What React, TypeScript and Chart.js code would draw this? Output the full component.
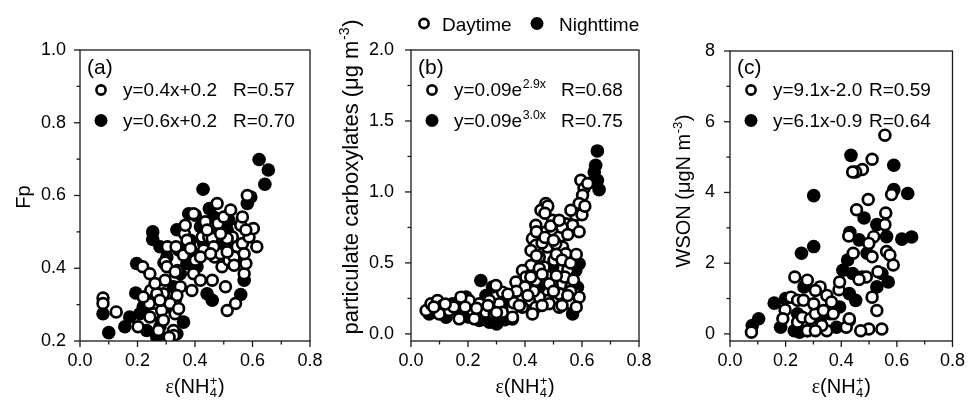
import React, { useEffect, useRef } from 'react';
import { Chart, registerables } from 'chart.js';

Chart.register(...registerables);

const FONT = "'Liberation Sans', Arial, Helvetica, sans-serif";
const SERIF = "'Liberation Serif', 'Times New Roman', serif";

// ---------- shared x axis ----------
const xTicks = [0, 0.2, 0.4, 0.6, 0.8];
const xTickLabels = ['0.0', '0.2', '0.4', '0.6', '0.8'];
const xMinor = [0.1, 0.3, 0.5, 0.7];

// ---------- panel (a) ----------
const aYTicks = [0.2, 0.4, 0.6, 0.8, 1.0];
const aYTickLabels = ['0.2', '0.4', '0.6', '0.8', '1.0'];
const aYMinor = [0.3, 0.5, 0.7, 0.9];
const aDay: number[][] = [
  [0.08, 0.318], [0.08, 0.303], [0.126, 0.28], [0.202, 0.239], [0.218, 0.404], [0.243, 0.385], [0.246, 0.339],
  [0.241, 0.303], [0.255, 0.275], [0.273, 0.229], [0.284, 0.284], [0.29, 0.33], [0.292, 0.415], [0.296, 0.367],
  [0.304, 0.459], [0.325, 0.229], [0.331, 0.275], [0.331, 0.312], [0.334, 0.459], [0.339, 0.394], [0.36, 0.436],
  [0.363, 0.495], [0.349, 0.349], [0.372, 0.477], [0.389, 0.339], [0.401, 0.546], [0.395, 0.385], [0.419, 0.367],
  [0.425, 0.486], [0.43, 0.45], [0.436, 0.528], [0.448, 0.486], [0.46, 0.367], [0.468, 0.431], [0.477, 0.578],
  [0.48, 0.523], [0.489, 0.44], [0.494, 0.404], [0.5, 0.541], [0.506, 0.349], [0.512, 0.284], [0.518, 0.422],
  [0.524, 0.56], [0.53, 0.486], [0.541, 0.303], [0.547, 0.459], [0.559, 0.518], [0.565, 0.468], [0.571, 0.385],
  [0.577, 0.413], [0.582, 0.6], [0.588, 0.486], [0.603, 0.509], [0.615, 0.459], [0.536, 0.431], [0.46, 0.482],
  [0.512, 0.482], [0.395, 0.55], [0.337, 0.325], [0.313, 0.303], [0.267, 0.33], [0.261, 0.358], [0.326, 0.215],
  [0.31, 0.21], [0.296, 0.417], [0.302, 0.404], [0.331, 0.39], [0.366, 0.518], [0.384, 0.454], [0.401, 0.422],
  [0.419, 0.431], [0.442, 0.505], [0.465, 0.459], [0.512, 0.445], [0.536, 0.408], [0.571, 0.44], [0.577, 0.505],
  [0.565, 0.541], [0.489, 0.495], [0.454, 0.44], [0.243, 0.266], [0.278, 0.312], [0.29, 0.257], [0.343, 0.289],
  [0.22, 0.321],
];
const aNight: number[][] = [
  [0.623, 0.699], [0.655, 0.67], [0.643, 0.631], [0.428, 0.617], [0.1, 0.223], [0.08, 0.275], [0.156, 0.239],
  [0.194, 0.332], [0.197, 0.413], [0.253, 0.5], [0.253, 0.479], [0.337, 0.506], [0.378, 0.55], [0.45, 0.564],
  [0.571, 0.367], [0.559, 0.328], [0.46, 0.312], [0.442, 0.33], [0.267, 0.211], [0.36, 0.252], [0.313, 0.294],
  [0.372, 0.413], [0.407, 0.404], [0.465, 0.541], [0.518, 0.532], [0.582, 0.578], [0.594, 0.596], [0.278, 0.459],
  [0.302, 0.431], [0.325, 0.349], [0.22, 0.294], [0.173, 0.266], [0.208, 0.275], [0.278, 0.266], [0.232, 0.229],
  [0.43, 0.468], [0.489, 0.459], [0.536, 0.468], [0.384, 0.477], [0.419, 0.514], [0.477, 0.495], [0.512, 0.505],
  [0.559, 0.431], [0.343, 0.45], [0.349, 0.385], [0.395, 0.44], [0.278, 0.239], [0.337, 0.22],
];

// ---------- panel (b) ----------
const bYTicks = [0, 0.5, 1.0, 1.5, 2.0];
const bYTickLabels = ['0.0', '0.5', '1.0', '1.5', '2.0'];
const bYMinor = [0.25, 0.75, 1.25, 1.75];
const bDay: number[][] = [
  [0.596, 1.082], [0.607, 1.024], [0.602, 0.976], [0.59, 0.918], [0.578, 0.835], [0.561, 0.871], [0.543, 0.776],
  [0.567, 0.765], [0.473, 0.918], [0.456, 0.871], [0.438, 0.765], [0.426, 0.671], [0.438, 0.624], [0.421, 0.588],
  [0.45, 0.541], [0.473, 0.718], [0.497, 0.8], [0.497, 0.729], [0.52, 0.682], [0.532, 0.612], [0.543, 0.565],
  [0.479, 0.612], [0.502, 0.518], [0.467, 0.471], [0.508, 0.635], [0.421, 0.482], [0.391, 0.447], [0.368, 0.365],
  [0.403, 0.4], [0.438, 0.376], [0.485, 0.353], [0.532, 0.353], [0.561, 0.329], [0.578, 0.282], [0.543, 0.235],
  [0.52, 0.282], [0.479, 0.235], [0.45, 0.259], [0.415, 0.235], [0.38, 0.247], [0.35, 0.259], [0.321, 0.294],
  [0.298, 0.341], [0.31, 0.212], [0.275, 0.235], [0.24, 0.212], [0.204, 0.235], [0.175, 0.259], [0.216, 0.165],
  [0.263, 0.153], [0.321, 0.153], [0.356, 0.176], [0.391, 0.188], [0.438, 0.188], [0.485, 0.212], [0.52, 0.188],
  [0.561, 0.212], [0.053, 0.165], [0.07, 0.212], [0.093, 0.235], [0.111, 0.2], [0.134, 0.165], [0.099, 0.141],
  [0.169, 0.106], [0.222, 0.106], [0.292, 0.141], [0.356, 0.118], [0.426, 0.141], [0.59, 0.259], [0.48, 0.9],
  [0.47, 0.85], [0.44, 0.72], [0.46, 0.64], [0.53, 0.75], [0.55, 0.7], [0.51, 0.56], [0.55, 0.45], [0.56, 0.3],
  [0.53, 0.2], [0.3, 0.15], [0.36, 0.22], [0.43, 0.3], [0.46, 0.2], [0.44, 0.55], [0.45, 0.46], [0.47, 0.68],
  [0.49, 0.76], [0.5, 0.66], [0.52, 0.8], [0.53, 0.52], [0.54, 0.4], [0.56, 0.5], [0.57, 0.38], [0.58, 0.56],
  [0.6, 0.84], [0.61, 0.9], [0.62, 1.06], [0.59, 0.72], [0.42, 0.4], [0.4, 0.33], [0.37, 0.3], [0.34, 0.28],
  [0.27, 0.2], [0.23, 0.18], [0.19, 0.19], [0.15, 0.19], [0.12, 0.21], [0.08, 0.19], [0.38, 0.2], [0.41, 0.27],
  [0.5, 0.3], [0.55, 0.27], [0.58, 0.19], [0.51, 0.41], [0.46, 0.42],
];
const bNight: number[][] = [
  [0.654, 1.289], [0.648, 1.188], [0.643, 1.141], [0.654, 1.082], [0.66, 1.016], [0.637, 1.07], [0.59, 0.494],
  [0.578, 0.447], [0.245, 0.376], [0.584, 0.329], [0.578, 0.235], [0.064, 0.141], [0.123, 0.118], [0.181, 0.141],
  [0.24, 0.094], [0.298, 0.094], [0.356, 0.106], [0.275, 0.082], [0.415, 0.212], [0.473, 0.235], [0.532, 0.259],
  [0.543, 0.376], [0.38, 0.282], [0.333, 0.235], [0.193, 0.259], [0.146, 0.212], [0.263, 0.271], [0.45, 0.33],
  [0.497, 0.471], [0.426, 0.447], [0.567, 0.141], [0.286, 0.33], [0.321, 0.153], [0.3, 0.07], [0.33, 0.1],
  [0.09, 0.17], [0.2, 0.12],
];

// ---------- panel (c) ----------
const cYTicks = [0, 2, 4, 6, 8];
const cYTickLabels = ['0', '2', '4', '6', '8'];
const cYMinor = [1, 3, 5, 7];
const cDay: number[][] = [
  [0.557, 5.62], [0.511, 4.94], [0.476, 4.65], [0.452, 4.58], [0.441, 4.58], [0.497, 3.8], [0.455, 3.51],
  [0.581, 3.94], [0.56, 3.42], [0.557, 3.09], [0.427, 2.77], [0.517, 2.75], [0.499, 2.56], [0.443, 2.28],
  [0.511, 2.18], [0.563, 2.33], [0.575, 2.23], [0.587, 1.95], [0.532, 1.76], [0.49, 1.61], [0.464, 1.54],
  [0.511, 1.04], [0.528, 0.66], [0.546, 0.14], [0.499, 0.14], [0.47, 0.09], [0.429, 0.38], [0.418, 0.19],
  [0.429, 0.43], [0.392, 1.25], [0.394, 1.47], [0.348, 1.09], [0.324, 1.33], [0.307, 1.23], [0.278, 1.52],
  [0.233, 1.61], [0.219, 1.04], [0.198, 0.68], [0.19, 0.43], [0.243, 0.95], [0.264, 0.95], [0.243, 0.33],
  [0.26, 0.47], [0.289, 0.43], [0.307, 0.57], [0.301, 0.85], [0.336, 0.66], [0.348, 0.09], [0.33, 0.24],
  [0.371, 0.57], [0.365, 0.9], [0.278, 0.09], [0.307, 0.09], [0.077, 0.05],
];
const cNight: number[][] = [
  [0.435, 5.05], [0.589, 4.77], [0.301, 3.91], [0.639, 3.97], [0.589, 4.08], [0.301, 2.47], [0.257, 2.28],
  [0.618, 2.68], [0.653, 2.74], [0.563, 2.75], [0.482, 3.28], [0.464, 2.66], [0.431, 2.87], [0.528, 3.09],
  [0.103, 0.43], [0.08, 0.24], [0.159, 0.87], [0.182, 0.19], [0.231, 0.09], [0.406, 1.8], [0.423, 2.09],
  [0.441, 1.71], [0.452, 0.95], [0.394, 0.76], [0.359, 0.57], [0.569, 1.47], [0.546, 1.71], [0.528, 1.33],
  [0.493, 2.28], [0.266, 1.33], [0.243, 0.57], [0.324, 0.38], [0.278, 0.09], [0.429, 1.14], [0.476, 1.61],
  [0.383, 0.19], [0.2, 1.0], [0.25, 0.05],
];

// ---------- text ----------
const legendLabels = ['Daytime', 'Nighttime'];
const panelTags = ['(a)', '(b)', '(c)'];

type Seg = { t?: string; sub?: string; sup?: string; serif?: boolean };

const xTitle: Seg[] = [{ t: 'ε', serif: true }, { t: '(NH' }, { sub: '4', sup: '+' }, { t: ')' }];

const W = 974;
const H = 406;

function fontStr(size: number, serif?: boolean) {
  return `${size}px ${serif ? SERIF : FONT}`;
}

function drawRich(ctx: CanvasRenderingContext2D, segs: Seg[], x: number, y: number, size: number, align: 'left' | 'center') {
  const small = size * 0.65;
  const widths = segs.map((s) => {
    if (s.t !== undefined) {
      ctx.font = fontStr(size, s.serif);
      return ctx.measureText(s.t).width;
    }
    ctx.font = fontStr(small);
    return Math.max(s.sub ? ctx.measureText(s.sub).width : 0, s.sup ? ctx.measureText(s.sup).width : 0) + 1;
  });
  const total = widths.reduce((a, b) => a + b, 0);
  let cx = align === 'center' ? x - total / 2 : x;
  ctx.textAlign = 'left';
  ctx.textBaseline = 'alphabetic';
  segs.forEach((s, i) => {
    if (s.t !== undefined) {
      ctx.font = fontStr(size, s.serif);
      ctx.fillText(s.t, cx, y);
    } else {
      ctx.font = fontStr(small);
      if (s.sub) ctx.fillText(s.sub, cx + 0.5, y + size * 0.22);
      if (s.sup) ctx.fillText(s.sup, cx + 0.5, y - size * 0.42);
    }
    cx += widths[i];
  });
}

function openMarker(ctx: CanvasRenderingContext2D, x: number, y: number, r: number) {
  ctx.beginPath();
  ctx.arc(x, y, r, 0, Math.PI * 2);
  ctx.fillStyle = '#fff';
  ctx.fill();
  ctx.lineWidth = 2.6;
  ctx.strokeStyle = '#000';
  ctx.stroke();
}
function filledMarker(ctx: CanvasRenderingContext2D, x: number, y: number, r: number) {
  ctx.beginPath();
  ctx.arc(x, y, r, 0, Math.PI * 2);
  ctx.fillStyle = '#000';
  ctx.fill();
}

type Panel = {
  day: number[][];
  night: number[][];
  yMin: number;
  yMax: number;
  yTicks: number[];
  yTickLabels: string[];
  yMinor: number[];
  left: number;
  right: number;
  top: number;
  bottom: number;
  yLabelPad: number;
  yTitle: Seg[];
  yTitleX: number;
  yTitleY: number;
  yTitleSize: number;
  tag: string;
  eq1: Seg[];
  eq2: Seg[];
  r1: string;
  r2: string;
  rOffset: number;
  topLegend?: boolean;
};

const panels: Panel[] = [
  {
    day: aDay, night: aNight, yMin: 0.2, yMax: 1.0,
    yTicks: aYTicks, yTickLabels: aYTickLabels, yMinor: aYMinor,
    left: 80, right: 310, top: 50, bottom: 341, yLabelPad: 14,
    yTitle: [{ t: 'Fp' }], yTitleX: 30, yTitleY: 197, yTitleSize: 20,
    tag: panelTags[0],
    eq1: [{ t: 'y=0.4x+0.2' }], eq2: [{ t: 'y=0.6x+0.2' }], r1: 'R=0.57', r2: 'R=0.70', rOffset: 153,
  },
  {
    day: bDay, night: bNight, yMin: -0.05, yMax: 2.0,
    yTicks: bYTicks, yTickLabels: bYTickLabels, yMinor: bYMinor,
    left: 411, right: 639, top: 50, bottom: 341, yLabelPad: 17,
    yTitle: [{ t: 'particulate carboxylates (μg m' }, { sup: '-3' }, { t: ')' }], yTitleX: 358, yTitleY: 177, yTitleSize: 22,
    tag: panelTags[1],
    eq1: [{ t: 'y=0.09e' }, { sup: '2.9x' }], eq2: [{ t: 'y=0.09e' }, { sup: '3.0x' }], r1: 'R=0.68', r2: 'R=0.75', rOffset: 150,
    topLegend: true,
  },
  {
    day: cDay, night: cNight, yMin: -0.2, yMax: 8,
    yTicks: cYTicks, yTickLabels: cYTickLabels, yMinor: cYMinor,
    left: 730, right: 960, top: 51, bottom: 341, yLabelPad: 15,
    yTitle: [{ t: 'WSON (μgN m' }, { sup: '-3' }, { t: ')' }], yTitleX: 690, yTitleY: 191, yTitleSize: 20,
    tag: panelTags[2],
    eq1: [{ t: 'y=9.1x-2.0' }], eq2: [{ t: 'y=6.1x-0.9' }], r1: 'R=0.59', r2: 'R=0.64', rOffset: 139,
  },
];

const Y_AXIS_W = 60;

function makeDecor(p: Panel) {
  return {
    id: 'decor',
    afterDatasetsDraw(chart: any) {
      const { ctx, chartArea: ca, scales } = chart;
      const xs = scales.x;
      const ys = scales.y;
      ctx.save();
      ctx.strokeStyle = '#1a1a1a';
      ctx.lineWidth = 1.3;
      ctx.strokeRect(ca.left, ca.top, ca.right - ca.left, ca.bottom - ca.top);
      const tick = (x1: number, y1: number, x2: number, y2: number) => {
        ctx.beginPath();
        ctx.moveTo(x1, y1);
        ctx.lineTo(x2, y2);
        ctx.stroke();
      };
      xTicks.forEach((v) => { const px = xs.getPixelForValue(v); tick(px, ca.bottom, px, ca.bottom + 6); });
      xMinor.forEach((v) => { const px = xs.getPixelForValue(v); tick(px, ca.bottom, px, ca.bottom + 3.5); });
      p.yTicks.forEach((v) => { const py = ys.getPixelForValue(v); tick(ca.left, py, ca.left - 6, py); });
      p.yMinor.forEach((v) => { const py = ys.getPixelForValue(v); tick(ca.left, py, ca.left - 3.5, py); });

      ctx.fillStyle = '#000';
      drawRich(ctx, xTitle, (ca.left + ca.right) / 2, 393, 20, 'center');
      ctx.save();
      ctx.translate(p.yTitleX, p.yTitleY);
      ctx.rotate(-Math.PI / 2);
      ctx.fillStyle = '#000';
      drawRich(ctx, p.yTitle, 0, 0, p.yTitleSize, 'center');
      ctx.restore();

      ctx.fillStyle = '#000';
      ctx.font = fontStr(21);
      ctx.textAlign = 'left';
      ctx.textBaseline = 'alphabetic';
      ctx.fillText(p.tag, ca.left + 7, 74);
      openMarker(ctx, ca.left + 21, 90, 4.6);
      filledMarker(ctx, ca.left + 21, 120.5, 6.5);
      ctx.fillStyle = '#000';
      drawRich(ctx, p.eq1, ca.left + 43, 96, 19, 'left');
      drawRich(ctx, p.eq2, ca.left + 43, 127, 19, 'left');
      ctx.font = fontStr(19);
      ctx.fillText(p.r1, ca.left + p.rOffset, 96);
      ctx.fillText(p.r2, ca.left + p.rOffset, 127);

      if (p.topLegend) {
        openMarker(ctx, 424, 23.5, 4.6);
        filledMarker(ctx, 537, 23.5, 6.5);
        ctx.fillStyle = '#000';
        ctx.font = fontStr(19);
        ctx.fillText(legendLabels[0], 442, 30.5);
        ctx.fillText(legendLabels[1], 559, 30.5);
      }
      ctx.restore();
    },
  };
}

function labelFor(ticks: number[], labels: string[]) {
  return (v: number) => {
    const i = ticks.findIndex((t) => Math.abs(t - v) < 1e-9);
    return i >= 0 ? labels[i] : '';
  };
}

function PanelChart({ p }: { p: Panel }) {
  const ref = useRef<HTMLCanvasElement | null>(null);
  useEffect(() => {
    if (!ref.current) return;
    const xLab = labelFor(xTicks, xTickLabels);
    const yLab = labelFor(p.yTicks, p.yTickLabels);
    const chart = new Chart(ref.current, {
      type: 'scatter',
      data: {
        datasets: [
          {
            label: legendLabels[0],
            data: p.day.map(([x, y]) => ({ x, y })),
            pointRadius: 5.4,
            pointBorderWidth: 2.7,
            pointBackgroundColor: '#fff',
            pointBorderColor: '#000',
            clip: 0,
          },
          {
            label: legendLabels[1],
            data: p.night.map(([x, y]) => ({ x, y })),
            pointRadius: 6.8,
            pointBorderWidth: 0,
            pointBackgroundColor: '#000',
            pointBorderColor: '#000',
            clip: 0,
          },
        ],
      },
      options: {
        responsive: false,
        animation: false,
        events: [],
        layout: {
          padding: { left: p.left - Y_AXIS_W, right: W - p.right, top: p.top, bottom: 0 },
        },
        plugins: {
          legend: { display: false },
          tooltip: { enabled: false },
          title: { display: false },
        },
        scales: {
          x: {
            type: 'linear',
            position: 'bottom',
            min: 0,
            max: 0.8,
            grid: { display: false, drawTicks: false },
            border: { display: false },
            afterBuildTicks: (s: any) => { s.ticks = xTicks.map((v) => ({ value: v })); },
            afterFit: (s: any) => { s.height = H - p.bottom; },
            ticks: {
              padding: 9,
              color: '#000',
              autoSkip: false,
              maxRotation: 0,
              font: { size: 18, family: FONT },
              callback: (v: any) => xLab(Number(v)),
            },
          },
          y: {
            type: 'linear',
            position: 'left',
            min: p.yMin,
            max: p.yMax,
            grid: { display: false, drawTicks: false },
            border: { display: false },
            afterBuildTicks: (s: any) => { s.ticks = p.yTicks.map((v) => ({ value: v })); },
            afterFit: (s: any) => { s.width = Y_AXIS_W; },
            ticks: {
              padding: p.yLabelPad,
              color: '#000',
              autoSkip: false,
              font: { size: 18, family: FONT },
              callback: (v: any) => yLab(Number(v)),
            },
          },
        },
      },
      plugins: [makeDecor(p)],
    } as any);
    return () => chart.destroy();
  }, [p]);
  return (
    <canvas
      ref={ref}
      width={W}
      height={H}
      style={{ position: 'absolute', left: 0, top: 0, width: W, height: H }}
    />
  );
}

export default function App() {
  return (
    <div style={{ position: 'fixed', left: 0, top: 0, width: W, height: H, background: '#fff' }}>
      {panels.map((p, i) => (
        <PanelChart key={i} p={p} />
      ))}
    </div>
  );
}
